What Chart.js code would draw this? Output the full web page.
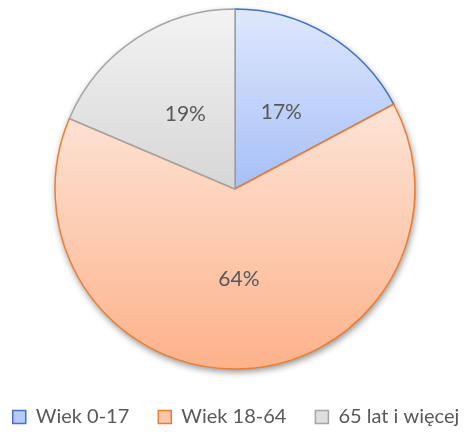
<!DOCTYPE html>
<html>
<head>
<meta charset="utf-8">
<script src="https://cdn.jsdelivr.net/npm/chart.js@4"></script>
<style>
  html, body { margin: 0; padding: 0; background: #fff; }
  #wrap { width: 470px; height: 432px; }
</style>
</head>
<body>
<div id="wrap"><canvas id="wykres"></canvas></div>
<script>
const kategorie = ['Wiek 0-17', 'Wiek 18-64', '65 lat i więcej'];
const udzialy = [17.2, 64.2, 18.6];

const krawedzie = ['#4472c4', '#ed7d31', '#a5a5a5'];
const gradientGora = ['#dfe8fc', '#fde4d7', '#f3f3f3'];
const gradientDol = ['#a6bff8', '#fdb28a', '#d6d6d6'];
const legendaKolor = ['#b4cbf9', '#fcc6aa', '#dedede'];

const R = 180;
const suma = udzialy.reduce((a, b) => a + b, 0);

function gradientWycinka(context) {
  const i = context.dataIndex;
  const chart = context.chart;
  const area = chart.chartArea;
  if (!area) return gradientDol[i];
  const cy = (area.top + area.bottom) / 2;
  let przed = 0;
  for (let k = 0; k < i; k++) przed += udzialy[k];
  const a0 = przed / suma * 2 * Math.PI - Math.PI / 2;
  const a1 = (przed + udzialy[i]) / suma * 2 * Math.PI - Math.PI / 2;
  let ys = [cy, cy + R * Math.sin(a0), cy + R * Math.sin(a1)];
  // czy wycinek przechodzi przez gore / dol kola
  [-Math.PI / 2, Math.PI / 2, 3 * Math.PI / 2].forEach(a => {
    if (a > a0 && a < a1) ys.push(cy + R * Math.sin(a));
  });
  const yMin = Math.min(...ys), yMax = Math.max(...ys);
  const g = chart.ctx.createLinearGradient(0, yMin, 0, yMax);
  g.addColorStop(0, gradientGora[i]);
  g.addColorStop(1, gradientDol[i]);
  return g;
}

const cien = {
  id: 'cien',
  beforeDatasetsDraw(chart) {
    const arc = chart.getDatasetMeta(0).data[0];
    if (!arc) return;
    const ctx = chart.ctx;
    ctx.save();
    ctx.shadowColor = 'rgba(0,0,0,0.45)';
    ctx.shadowBlur = 7;
    ctx.shadowOffsetX = 1;
    ctx.shadowOffsetY = 3;
    ctx.fillStyle = '#ffffff';
    ctx.beginPath();
    ctx.arc(arc.x, arc.y, arc.outerRadius, 0, 2 * Math.PI);
    ctx.fill();
    ctx.restore();
  }
};

const etykiety = {
  id: 'etykiety',
  afterDatasetsDraw(chart) {
    const ctx = chart.ctx;
    ctx.save();
    ctx.font = '21px Lato';
    ctx.fillStyle = '#595959';
    ctx.textAlign = 'center';
    ctx.textBaseline = 'middle';
    chart.getDatasetMeta(0).data.forEach((arc, i) => {
      const p = arc.tooltipPosition();
      ctx.fillText(Math.round(udzialy[i] / suma * 100) + '%', p.x, p.y);
    });
    ctx.restore();
  }
};

new Chart(document.getElementById('wykres'), {
  type: 'pie',
  data: {
    labels: kategorie,
    datasets: [{
      data: udzialy,
      backgroundColor: gradientWycinka,
      borderColor: krawedzie,
      borderWidth: 1.5,
      hoverOffset: 0
    }]
  },
  options: {
    responsive: true,
    maintainAspectRatio: false,
    animation: false,
    radius: R,
    // ujemne marginesy boczne, zeby legenda miescila sie w jednym wierszu
    layout: { padding: { top: -2, bottom: -5, left: -29, right: -31 } },
    plugins: {
      tooltip: { enabled: false },
      legend: {
        position: 'bottom',
        labels: {
          boxWidth: 13,
          boxHeight: 13,
          padding: 29,
          color: '#595959',
          font: { family: 'Lato', size: 20 },
          generateLabels(chart) {
            return kategorie.map((t, i) => ({
              text: t,
              fillStyle: legendaKolor[i],
              strokeStyle: krawedzie[i],
              lineWidth: 1.5,
              fontColor: '#595959',
              index: i,
              hidden: false
            }));
          }
        }
      }
    }
  },
  plugins: [cien, etykiety]
});
</script>
</body>
</html>
